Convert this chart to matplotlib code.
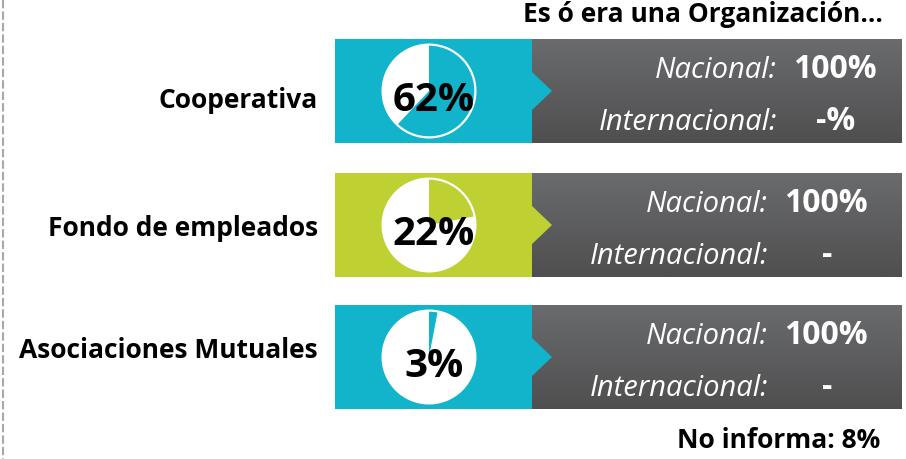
import numpy as np
import matplotlib
matplotlib.use("Agg")
import matplotlib.pyplot as plt
from matplotlib.patches import Rectangle, Polygon, Circle, Wedge


# ################### DATA ####################
categories = ["Cooperativa", "Fondo de empleados", "Asociaciones Mutuales"]
shares = [62, 22, 3]
nacional = ["100%", "100%", "100%"]
internacional = ["-%", "-", "-"]
bandColors = ["#11B4CB", "#BFD032", "#11B4CB"]

title = "Es ó era una Organización..."
footer = "No informa: 8%"


# ################### LAYOUT (pixels from top-left) ####################
W, H = 906, 459
FONT = "Open Sans"
bandTops = [39, 173, 305]
bandHeight = 104
bandLeft, bandSplit, boxRight = 335, 532, 902
labelBaselines = [108, 236, 358]
textShift = [9, 0, 0]          # first row's text sits a bit further right
pieX, pieR = 429, 47.5


# ################### FUNCTIONS ####################
def drawGradientBox(ax, x0, x1, y0, y1):
    rows = 64
    top = np.array([106, 107, 109]) / 255.0
    bottom = np.array([79, 79, 80]) / 255.0
    t = np.linspace(0, 1, rows)[:, None]
    grad = (top * (1 - t) + bottom * t)[:, None, :]
    ax.imshow(grad, extent=(x0, x1, y1, y0), origin="upper",
              aspect="auto", interpolation="bilinear", zorder=1)


def drawRow(ax, i):
    top = bandTops[i]
    mid = top + bandHeight / 2
    color = bandColors[i]

    # dark info box with gradient, then the coloured band and its arrow
    drawGradientBox(ax, bandSplit, boxRight, top, top + bandHeight)
    ax.add_patch(Rectangle((bandLeft, top), bandSplit - bandLeft, bandHeight,
                           facecolor=color, edgecolor="none", zorder=2))
    ax.add_patch(Polygon([(bandSplit - 1, mid - 20), (bandSplit + 20, mid),
                          (bandSplit - 1, mid + 20)],
                         closed=True, facecolor=color, edgecolor="none",
                         zorder=2))

    # small pie: white disc with the share drawn clockwise from 12 o'clock
    ax.add_patch(Circle((pieX, mid), pieR, facecolor="white",
                        edgecolor="none", zorder=3))
    ax.add_patch(Wedge((pieX, mid), pieR - 2.2, -90, -90 + 360 * shares[i] / 100,
                       facecolor=color, edgecolor="none", zorder=4))
    ax.text(pieX + 5, top + 72, str(shares[i]) + "%", fontsize=29,
            fontweight="bold", family=FONT, ha="center", va="baseline",
            color="black", zorder=5)

    # category label
    ax.text(318, labelBaselines[i], categories[i], fontsize=19,
            fontweight="bold", family=FONT, ha="right", va="baseline",
            color="black", zorder=5)

    # nacional / internacional breakdown
    dx = textShift[i]
    ax.text(768 + dx, top + 39, "Nacional:", fontsize=21, style="italic",
            family=FONT, ha="right", va="baseline", color="white", zorder=5)
    ax.text(826 + dx, top + 39, nacional[i], fontsize=23, fontweight="bold",
            family=FONT, ha="center", va="baseline", color="white", zorder=5)
    ax.text(768 + dx, top + 91, "Internacional:", fontsize=21, style="italic",
            family=FONT, ha="right", va="baseline", color="white", zorder=5)
    ax.text(827 + dx, top + 91, internacional[i], fontsize=23,
            fontweight="bold", family=FONT, ha="center", va="baseline",
            color="white", zorder=5)


# Main Function
def main():
    fig = plt.figure(figsize=(W / 100, H / 100), dpi=100)
    ax = fig.add_axes([0, 0, 1, 1])
    ax.set_axis_off()

    for i in range(len(categories)):
        drawRow(ax, i)

    ax.text(883, 22, title, fontsize=19, fontweight="bold", family=FONT,
            ha="right", va="baseline", color="black")
    ax.text(880, 448, footer, fontsize=19, fontweight="bold", family=FONT,
            ha="right", va="baseline", color="black")

    # dashed guide on the left edge
    ax.plot([2.5, 2.5], [0, H], color="#A8A8A8", linewidth=1.5,
            linestyle=(0, (4, 1.5)))

    ax.set_xlim(0, W)
    ax.set_ylim(H, 0)
    fig.savefig("out.png", dpi=100)


main()
